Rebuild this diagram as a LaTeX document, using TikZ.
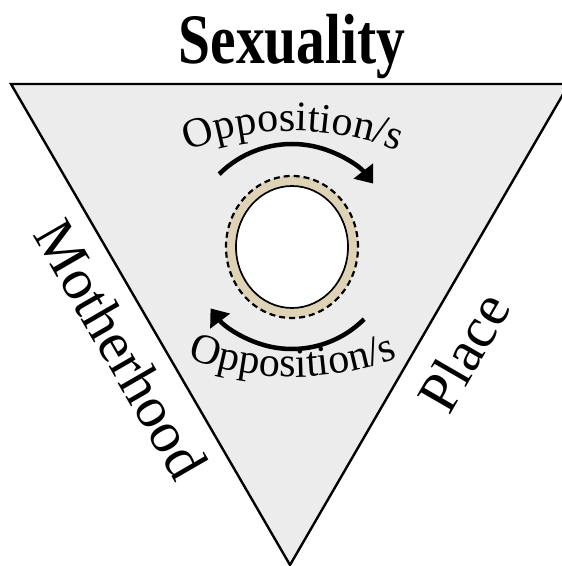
\documentclass[tikz,border=0pt]{standalone}
\usepackage{fontspec}
\setmainfont{Liberation Serif}
\usetikzlibrary{decorations.text, arrows.meta, calc}
\definecolor{trifill}{RGB}{236,236,236}
\definecolor{ringbeige}{RGB}{222,211,182}
\begin{document}
\begin{tikzpicture}[x=1pt,y=1pt,
  edge/.style={draw=black, line width=2.4pt, line join=miter},
  flowarrow/.style={line width=4.5pt, -{Triangle[length=16pt,width=24pt]}},
  sidelabel/.style={font=\fontsize{58}{58}\selectfont, anchor=base, inner sep=0pt},
  arctext/.style={decorate, decoration={text along path, text align=center,
     text={|\fontsize{42}{42}\selectfont|Opposition/s}}}
]
\useasboundingbox (0,0) rectangle (562,566);
\begin{scope}
\clip (0,0) rectangle (562,566);
\coordinate (L) at (11,482);
\coordinate (R) at (569,482);
\coordinate (B) at (290,1);
\draw[edge, fill=trifill] (L) -- (R) -- (B) -- cycle;
\end{scope}
\coordinate (O) at (292,319);
\fill[ringbeige] (O) ellipse [x radius=66pt, y radius=71pt];
\draw[line width=2.2pt, dash pattern=on 6pt off 4pt] (O) ellipse [x radius=66pt, y radius=71pt];
\draw[line width=1.7pt, fill=white] (O) ellipse [x radius=56pt, y radius=61pt];
\draw[flowarrow] ($(O)+(135:103pt)$) arc[start angle=135, end angle=38, radius=103pt];
\draw[flowarrow] ($(O)+(-45:102pt)$) arc[start angle=-45, end angle=-143, radius=102pt];
\coordinate (cU) at (293,145);
\coordinate (cD) at (293,485);
\path[arctext] ($(cU)+(120:290pt)$) arc[start angle=120, end angle=60, radius=290pt];
\path[arctext] ($(cD)+(240:296pt)$) arc[start angle=240, end angle=300, radius=296pt];
\node[font=\bfseries\fontsize{71}{71}\selectfont, xscale=0.81, anchor=base, inner sep=0pt] (sex) at (292,502) {Sexuality};
\node[sidelabel, rotate=-60] (moth) at (104,207) {Motherhood};
\node[sidelabel, rotate=60] (place) at (481,204) {Place};
\end{tikzpicture}
\end{document}
